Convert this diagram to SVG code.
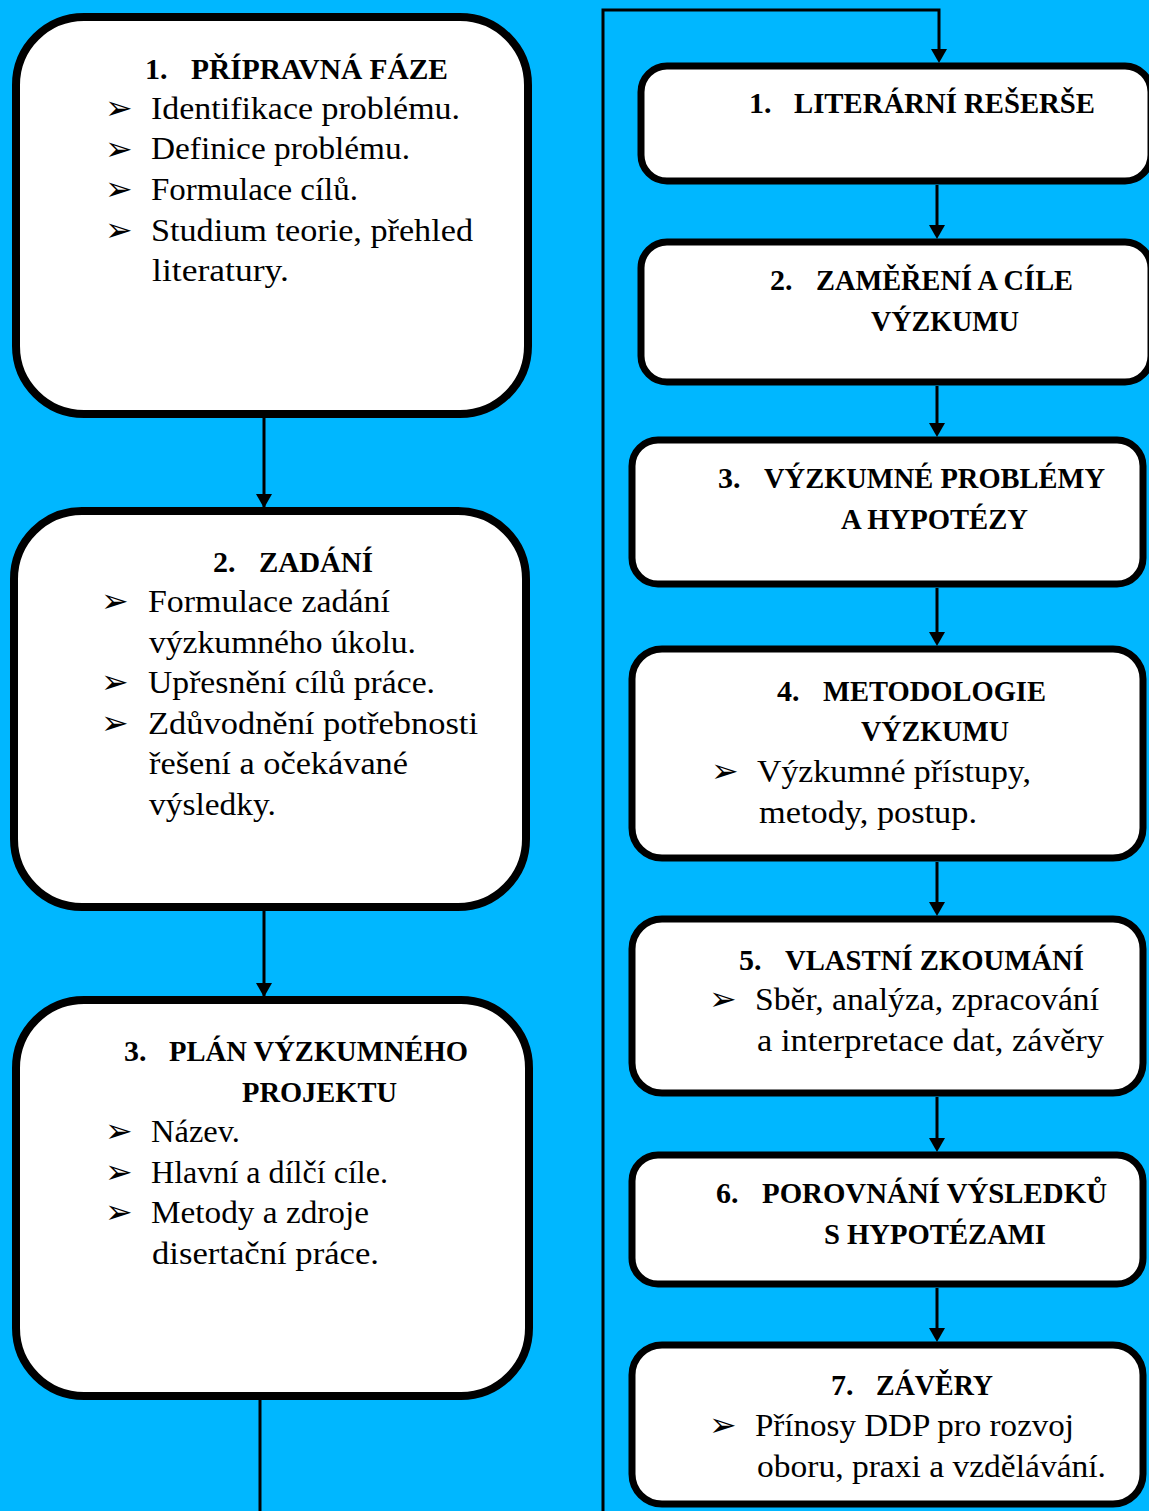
<svg xmlns="http://www.w3.org/2000/svg" width="1149" height="1511" viewBox="0 0 1149 1511">
<style>
.bg{fill:#00B7FF}
.big{fill:#fff;stroke:#000;stroke-width:8}
.box{fill:#fff;stroke:#000;stroke-width:7}
.h{font-family:"Liberation Serif","Times New Roman",serif;font-weight:bold;font-size:30px;fill:#000}
.t{font-family:"Liberation Serif","Times New Roman",serif;font-size:31px;fill:#000}
.b{font-family:"DejaVu Sans",sans-serif;font-size:33px;fill:#000}
.c{fill:none;stroke:#000;stroke-width:3}
</style>
<rect class="bg" x="0" y="0" width="1149" height="1511"/>

<g id="connectors">
<line class="c" x1="264" y1="418" x2="264" y2="507"/>
<path d="M256,494 L272,494 L264,508 Z"/>
<line class="c" x1="264" y1="911" x2="264" y2="996"/>
<path d="M256,983 L272,983 L264,997 Z"/>
<line class="c" x1="260" y1="1400" x2="260" y2="1511"/>
<polyline class="c" points="603,1511 603,10 939,10 939,50"/>
<path d="M931,49 L947,49 L939,63 Z"/>
<line class="c" x1="937" y1="185" x2="937" y2="226"/>
<path d="M929,225 L945,225 L937,239 Z"/>
<line class="c" x1="937" y1="386" x2="937" y2="424"/>
<path d="M929,423 L945,423 L937,437 Z"/>
<line class="c" x1="937" y1="588" x2="937" y2="633"/>
<path d="M929,632 L945,632 L937,646 Z"/>
<line class="c" x1="937" y1="862" x2="937" y2="903"/>
<path d="M929,902 L945,902 L937,916 Z"/>
<line class="c" x1="937" y1="1097" x2="937" y2="1139"/>
<path d="M929,1138 L945,1138 L937,1152 Z"/>
<line class="c" x1="937" y1="1288" x2="937" y2="1329"/>
<path d="M929,1328 L945,1328 L937,1342 Z"/>
</g>

<g id="n-l1">
<rect class="big" x="16" y="17" width="512" height="397" rx="68"/>
<text class="h" x="145" y="79">1.</text>
<text class="h" x="191" y="79" textLength="257" lengthAdjust="spacingAndGlyphs">PŘÍPRAVNÁ FÁZE</text>
<text class="b" x="105" y="119">➢</text>
<text class="t" x="151" y="119" textLength="309" lengthAdjust="spacingAndGlyphs">Identifikace problému.</text>
<text class="b" x="105" y="160">➢</text>
<text class="t" x="151" y="159" textLength="259" lengthAdjust="spacingAndGlyphs">Definice problému.</text>
<text class="b" x="105" y="200">➢</text>
<text class="t" x="151" y="200" textLength="207" lengthAdjust="spacingAndGlyphs">Formulace cílů.</text>
<text class="b" x="105" y="241">➢</text>
<text class="t" x="151" y="241" textLength="322" lengthAdjust="spacingAndGlyphs">Studium teorie, přehled</text>
<text class="t" x="152" y="281" textLength="137" lengthAdjust="spacingAndGlyphs">literatury.</text>
</g>

<g id="n-l2">
<rect class="big" x="14" y="511" width="512" height="396" rx="68"/>
<text class="h" x="213" y="572">2.</text>
<text class="h" x="259" y="572" textLength="114" lengthAdjust="spacingAndGlyphs">ZADÁNÍ</text>
<text class="b" x="101" y="612">➢</text>
<text class="t" x="148" y="612" textLength="242" lengthAdjust="spacingAndGlyphs">Formulace zadání</text>
<text class="t" x="149" y="653" textLength="267" lengthAdjust="spacingAndGlyphs">výzkumného úkolu.</text>
<text class="b" x="101" y="693">➢</text>
<text class="t" x="148" y="693" textLength="287" lengthAdjust="spacingAndGlyphs">Upřesnění cílů práce.</text>
<text class="b" x="101" y="734">➢</text>
<text class="t" x="148" y="734" textLength="330" lengthAdjust="spacingAndGlyphs">Zdůvodnění potřebnosti</text>
<text class="t" x="149" y="774" textLength="259" lengthAdjust="spacingAndGlyphs">řešení a očekávané</text>
<text class="t" x="149" y="815" textLength="127" lengthAdjust="spacingAndGlyphs">výsledky.</text>
</g>

<g id="n-l3">
<rect class="big" x="16" y="1000" width="513" height="396" rx="68"/>
<text class="h" x="124" y="1061">3.</text>
<text class="h" x="169" y="1061" textLength="299" lengthAdjust="spacingAndGlyphs">PLÁN VÝZKUMNÉHO</text>
<text class="h" x="242" y="1102" textLength="155" lengthAdjust="spacingAndGlyphs">PROJEKTU</text>
<text class="b" x="105" y="1142">➢</text>
<text class="t" x="151" y="1142" textLength="89" lengthAdjust="spacingAndGlyphs">Název.</text>
<text class="b" x="105" y="1183">➢</text>
<text class="t" x="151" y="1183" textLength="237" lengthAdjust="spacingAndGlyphs">Hlavní a dílčí cíle.</text>
<text class="b" x="105" y="1223">➢</text>
<text class="t" x="151" y="1223" textLength="218" lengthAdjust="spacingAndGlyphs">Metody a zdroje</text>
<text class="t" x="152" y="1264" textLength="227" lengthAdjust="spacingAndGlyphs">disertační práce.</text>
</g>

<g id="n-r1">
<rect class="box" x="641" y="66" width="510" height="115" rx="26"/>
<text class="h" x="749" y="113">1.</text>
<text class="h" x="794" y="113" textLength="301" lengthAdjust="spacingAndGlyphs">LITERÁRNÍ REŠERŠE</text>
</g>

<g id="n-r2">
<rect class="box" x="641" y="242" width="510" height="140" rx="26"/>
<text class="h" x="770" y="290">2.</text>
<text class="h" x="816" y="290" textLength="257" lengthAdjust="spacingAndGlyphs">ZAMĚŘENÍ A CÍLE</text>
<text class="h" x="871" y="331" textLength="148" lengthAdjust="spacingAndGlyphs">VÝZKUMU</text>
</g>

<g id="n-r3">
<rect class="box" x="632" y="440" width="511" height="144" rx="26"/>
<text class="h" x="718" y="488">3.</text>
<text class="h" x="764" y="488" textLength="341" lengthAdjust="spacingAndGlyphs">VÝZKUMNÉ PROBLÉMY</text>
<text class="h" x="841" y="529" textLength="187" lengthAdjust="spacingAndGlyphs">A HYPOTÉZY</text>
</g>

<g id="n-r4">
<rect class="box" x="632" y="649" width="511" height="209" rx="30"/>
<text class="h" x="777" y="701">4.</text>
<text class="h" x="823" y="701" textLength="223" lengthAdjust="spacingAndGlyphs">METODOLOGIE</text>
<text class="h" x="861" y="741" textLength="148" lengthAdjust="spacingAndGlyphs">VÝZKUMU</text>
<text class="b" x="711" y="782">➢</text>
<text class="t" x="757" y="782" textLength="274" lengthAdjust="spacingAndGlyphs">Výzkumné přístupy,</text>
<text class="t" x="759" y="823" textLength="218" lengthAdjust="spacingAndGlyphs">metody, postup.</text>
</g>

<g id="n-r5">
<rect class="box" x="632" y="919" width="511" height="174" rx="30"/>
<text class="h" x="739" y="970">5.</text>
<text class="h" x="785" y="970" textLength="299" lengthAdjust="spacingAndGlyphs">VLASTNÍ ZKOUMÁNÍ</text>
<text class="b" x="709" y="1010">➢</text>
<text class="t" x="755" y="1010" textLength="344" lengthAdjust="spacingAndGlyphs">Sběr, analýza, zpracování</text>
<text class="t" x="757" y="1051" textLength="347" lengthAdjust="spacingAndGlyphs">a interpretace dat, závěry</text>
</g>

<g id="n-r6">
<rect class="box" x="632" y="1155" width="511" height="129" rx="26"/>
<text class="h" x="716" y="1203">6.</text>
<text class="h" x="762" y="1203" textLength="345" lengthAdjust="spacingAndGlyphs">POROVNÁNÍ VÝSLEDKŮ</text>
<text class="h" x="824" y="1244" textLength="222" lengthAdjust="spacingAndGlyphs">S HYPOTÉZAMI</text>
</g>

<g id="n-r7">
<rect class="box" x="632" y="1345" width="511" height="159" rx="30"/>
<text class="h" x="831" y="1395">7.</text>
<text class="h" x="876" y="1395" textLength="117" lengthAdjust="spacingAndGlyphs">ZÁVĚRY</text>
<text class="b" x="709" y="1436">➢</text>
<text class="t" x="755" y="1436" textLength="319" lengthAdjust="spacingAndGlyphs">Přínosy DDP pro rozvoj</text>
<text class="t" x="757" y="1477" textLength="349" lengthAdjust="spacingAndGlyphs">oboru, praxi a vzdělávání.</text>
</g>
</svg>
